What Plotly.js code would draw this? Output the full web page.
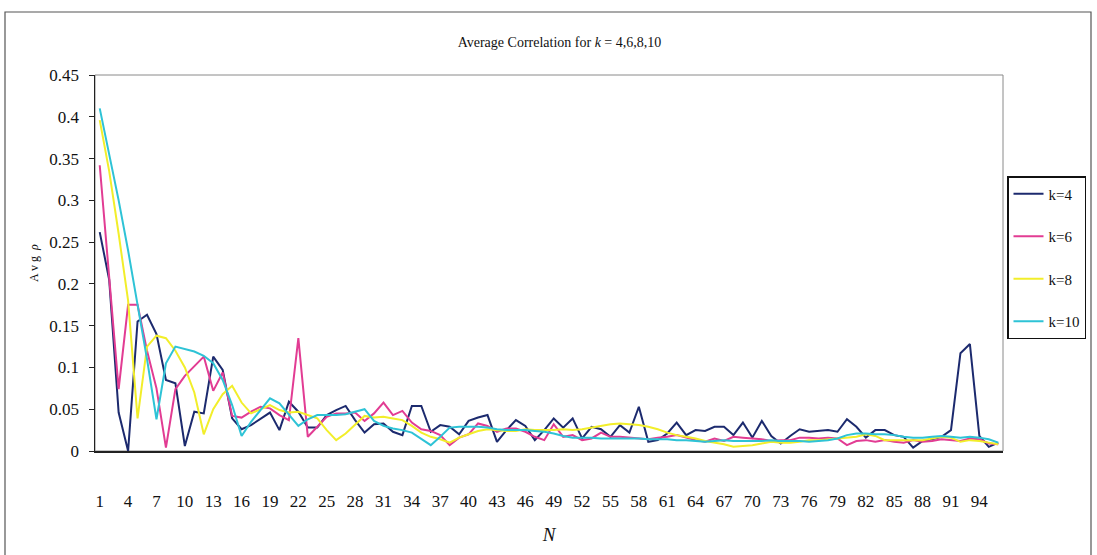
<!DOCTYPE html>
<html>
<head>
<meta charset="utf-8">
<script src="https://cdn.plot.ly/plotly-3.0.1.min.js"></script>
<style>
  html, body { margin: 0; padding: 0; background: #ffffff; }
  #chart { width: 1097px; height: 555px; }
</style>
</head>
<body>
<div id="chart"></div>
<script>
// N values (categories)
const N = [1,2,3,4,5,6,7,8,9,10,11,12,13,14,15,16,17,18,19,20,21,22,23,24,25,26,27,28,29,30,
  31,32,33,34,35,36,37,38,39,40,41,42,43,44,45,46,47,48,49,50,51,52,53,54,55,56,57,58,59,60,
  61,62,63,64,65,66,67,68,69,70,71,72,73,74,75,76,77,78,79,80,81,82,83,84,85,86,87,88,89,90,
  91,92,93,94,95,96];

const tickLabels = ["1","4","7","10","13","16","19","22","25","28","31","34","37","40","43","46",
  "49","52","55","58","61","64","67","70","73","76","79","82","85","88","91","94"];
const tickPositions = [1,4,7,10,13,16,19,22,25,28,31,34,37,40,43,46,49,52,55,58,61,64,67,70,73,76,79,82,85,88,91,94];

const seriesNames = ["k=4", "k=6", "k=8", "k=10"];

const k4 = [0.262,0.205,0.046,0.0,0.155,0.163,0.14,0.085,0.081,0.006,
  0.047,0.045,0.113,0.097,0.039,0.026,0.031,0.038,0.046,0.025,
  0.059,0.047,0.028,0.028,0.043,0.049,0.054,0.037,0.022,0.032,
  0.033,0.023,0.019,0.054,0.054,0.023,0.031,0.029,0.02,0.036,
  0.04,0.043,0.011,0.025,0.037,0.03,0.013,0.025,0.039,0.028,
  0.039,0.015,0.029,0.026,0.017,0.031,0.022,0.053,0.011,0.013,
  0.021,0.034,0.019,0.025,0.024,0.029,0.029,0.019,0.034,0.016,
  0.036,0.018,0.009,0.018,0.026,0.023,0.024,0.025,0.023,0.038,
  0.029,0.016,0.025,0.025,0.019,0.017,0.004,0.012,0.014,0.017,
  0.025,0.117,0.128,0.018,0.005,0.01];

const k6 = [0.342,0.205,0.074,0.175,0.175,0.12,0.075,0.004,0.074,0.09,
  0.102,0.113,0.072,0.094,0.042,0.04,0.047,0.053,0.051,0.043,
  0.037,0.135,0.017,0.029,0.041,0.045,0.045,0.046,0.036,0.045,
  0.058,0.043,0.048,0.034,0.026,0.024,0.019,0.007,0.016,0.02,
  0.033,0.03,0.023,0.027,0.027,0.023,0.017,0.013,0.032,0.017,
  0.019,0.013,0.015,0.022,0.017,0.017,0.016,0.015,0.014,0.016,
  0.017,0.019,0.016,0.013,0.011,0.015,0.012,0.017,0.016,0.015,
  0.014,0.012,0.013,0.013,0.016,0.016,0.015,0.016,0.015,0.007,
  0.012,0.013,0.011,0.013,0.011,0.01,0.013,0.011,0.012,0.014,
  0.013,0.012,0.015,0.014,0.009,0.008];

const k8 = [0.396,0.335,0.26,0.18,0.039,0.125,0.138,0.135,0.12,0.1,
  0.07,0.02,0.05,0.068,0.078,0.058,0.045,0.05,0.055,0.049,
  0.046,0.047,0.043,0.039,0.025,0.013,0.021,0.031,0.042,0.04,
  0.041,0.039,0.037,0.03,0.022,0.017,0.014,0.01,0.016,0.02,
  0.024,0.026,0.025,0.024,0.024,0.026,0.025,0.025,0.025,0.026,
  0.025,0.026,0.028,0.03,0.032,0.033,0.032,0.031,0.029,0.026,
  0.022,0.019,0.017,0.015,0.012,0.01,0.008,0.005,0.006,0.007,
  0.009,0.011,0.01,0.01,0.011,0.013,0.013,0.014,0.015,0.016,
  0.017,0.02,0.018,0.013,0.013,0.013,0.013,0.013,0.015,0.017,
  0.016,0.011,0.013,0.012,0.01,0.008];

const k10 = [0.41,0.355,0.3,0.24,0.175,0.11,0.038,0.105,0.125,0.122,
  0.119,0.114,0.105,0.085,0.055,0.018,0.035,0.049,0.063,0.057,
  0.044,0.03,0.038,0.043,0.043,0.043,0.044,0.047,0.05,0.036,
  0.03,0.027,0.025,0.022,0.015,0.007,0.017,0.028,0.029,0.029,
  0.029,0.028,0.026,0.025,0.025,0.025,0.024,0.023,0.021,0.018,
  0.016,0.016,0.016,0.015,0.015,0.015,0.015,0.015,0.014,0.014,
  0.014,0.013,0.013,0.012,0.011,0.012,0.013,0.012,0.012,0.012,
  0.012,0.013,0.012,0.012,0.012,0.011,0.012,0.013,0.015,0.019,
  0.021,0.021,0.02,0.02,0.019,0.017,0.016,0.016,0.017,0.018,
  0.017,0.016,0.017,0.016,0.014,0.01];

const colors = ["#1c2a6e", "#e23c93", "#f2ee2a", "#2ec3d6"];
const allSeries = [k4, k6, k8, k10];

const W = 1097, H = 555;
const L = 95, R = 94, T = 75, B = 104;
const pw = W - L - R, ph = H - T - B;
const px = v => (v - L) / pw;
const py = v => (H - B - v) / ph;

const serif = "Liberation Serif, Times New Roman, serif";

const traces = allSeries.map((ys, i) => ({
  type: "scatter",
  mode: "lines",
  name: seriesNames[i],
  legendgroup: "g" + i,
  x: N,
  y: ys,
  line: { color: colors[i], width: 2 },
  hoverinfo: "x+y+name"
}));

const layout = {
  width: W,
  height: H,
  margin: { l: L, r: R, t: T, b: B, autoexpand: false },
  paper_bgcolor: "#ffffff",
  plot_bgcolor: "#ffffff",
  font: { family: serif, color: "#111111" },
  title: {
    text: "Average Correlation for <i>k</i> = 4,6,8,10",
    font: { family: serif, size: 14, color: "#111111" },
    x: 0.51, xanchor: "center",
    y: 1 - 42 / H, yanchor: "middle"
  },
  xaxis: {
    range: [0.5, 96.5],
    tickmode: "array",
    tickvals: tickPositions,
    ticktext: tickLabels,
    ticks: "",
    ticklabelstandoff: 34,
    tickfont: { family: serif, size: 17, color: "#111111" },
    showline: true,
    linecolor: "#222222",
    linewidth: 1.5,
    showgrid: false,
    zeroline: false,
    automargin: false,
    title: {
      text: "<i>N</i>",
      font: { family: serif, size: 19, color: "#111111" },
      standoff: 18
    }
  },
  yaxis: {
    range: [0, 0.45],
    dtick: 0.05,
    tick0: 0,
    tickformat: "",
    ticks: "outside",
    ticklen: 5,
    tickcolor: "#222222",
    tickfont: { family: serif, size: 17, color: "#111111" },
    ticklabelstandoff: 6,
    showline: true,
    linecolor: "#222222",
    linewidth: 1.5,
    showgrid: false,
    zeroline: false,
    automargin: false,
    mirror: false,
    title: {
      text: "A v g  <i>ρ</i>",
      font: { family: serif, size: 12, color: "#111111" },
      standoff: 8
    }
  },
  legend: {
    x: px(1007), xanchor: "left",
    y: py(176), yanchor: "top",
    bgcolor: "#ffffff",
    bordercolor: "#111111",
    borderwidth: 1.5,
    font: { family: serif, size: 15, color: "#111111" },
    tracegroupgap: 20,
    itemwidth: 30
  },
  shapes: [
    { type: "rect", xref: "paper", yref: "paper",
      x0: 0, x1: 1, y0: 0, y1: 1,
      line: { color: "#8a8a8a", width: 1 }, fillcolor: "rgba(0,0,0,0)", layer: "below" },
    { type: "rect", xref: "paper", yref: "paper",
      x0: px(5), x1: px(1091), y0: py(556), y1: py(12),
      line: { color: "#555555", width: 1.2 }, fillcolor: "rgba(0,0,0,0)" }
  ],
  showlegend: true
};

Plotly.newPlot("chart", traces, layout, { displayModeBar: false, staticPlot: true });
</script>
</body>
</html>
